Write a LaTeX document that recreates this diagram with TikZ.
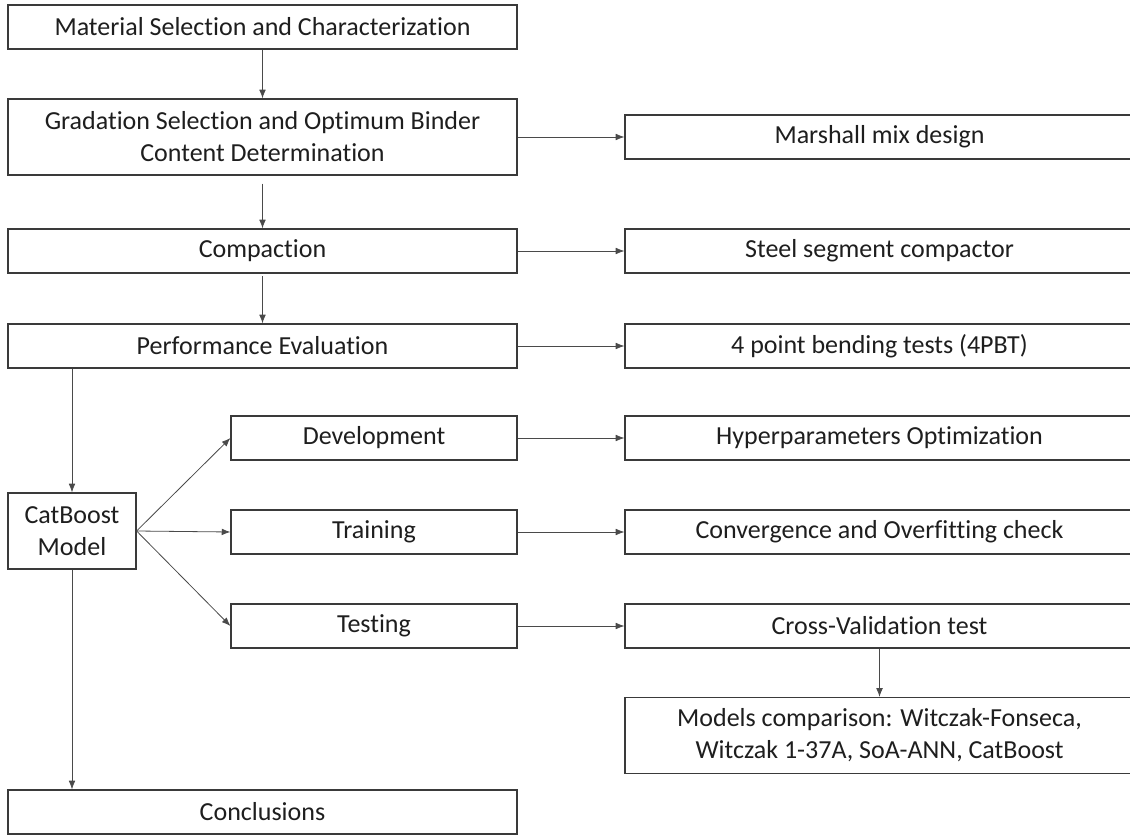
\documentclass[tikz,border=0pt]{standalone}
\usepackage{fontspec}
\setmainfont{Carlito}[Ligatures=CommonOff]
\usepackage{tikz}
\usetikzlibrary{arrows.meta,positioning,calc}
\definecolor{Ink}{HTML}{1E1E1E}
\definecolor{Edge}{HTML}{3A3A3A}
\definecolor{Wire}{HTML}{4A4A4A}
\tikzset{
  >={Latex[length=6.5pt,width=5pt]},
  box/.style={rectangle,draw=Edge,line width=.9pt,fill=white,minimum width=381.75pt,minimum height=33pt,inner sep=2pt,align=center,text=Ink,font=\fontsize{19.5}{24}\selectfont},
  tallbox/.style={box,minimum height=57pt},
  midbox/.style={box,minimum width=214.5pt},
  catbox/.style={box,minimum width=96pt,minimum height=57pt},
  flow/.style={->,line width=.6pt,draw=Wire}
}

\begin{document}
\begin{tikzpicture}[x=.75pt,y=-.75pt]
    \clip (0,0) rectangle (1130,837);
    % main column
    \node[box] (mat) at (262.5,27) {Material Selection and Characterization};
    \node[tallbox] (grad) at (262.5,137) {Gradation Selection and Optimum Binder\\Content Determination};
    \node[box] (comp) at (262.5,251) {Compaction};
    \node[box] (perf) at (262.5,346) {Performance Evaluation};
    \node[catbox] (cat) at (72,531) {CatBoost\\Model};
    \node[midbox] (dev) at (374,438) {Development};
    \node[midbox] (train) at (374,532) {Training};
    \node[midbox] (test) at (374,626) {Testing};
    \node[box] (concl) at (262.5,812) {Conclusions};
    % right column
    \node[box] (marsh) at (879.5,137) {Marshall mix design};
    \node[box] (steel) at (879.5,251) {Steel segment compactor};
    \node[box] (fpbt) at (879.5,346) {4 point bending tests (4PBT)};
    \node[box] (hyper) at (879.5,438) {Hyperparameters Optimization};
    \node[box] (conv) at (879.5,532) {Convergence and Overfitting check};
    \node[box] (cv) at (879.5,626) {Cross-Validation test};
    \node[tallbox] (cmp) at (879.5,735.5) {Models comparison: Witczak-Fonseca,\\Witczak 1-37A, SoA-ANN, CatBoost};
    % connectors
    \draw[flow] (mat) -- (grad);
    \draw[flow,shorten <=6pt] (grad) -- (comp);
    \draw[flow,shorten <=2pt] (comp) -- (perf);
    \draw[flow] (perf.south -| cat.north) -- (cat.north);
    \draw[flow] (cat.south) -- (cat.south |- concl.north);
    \draw[flow] (cat.east) -- (dev.west);
    \draw[flow] (cat.east) -- (train.west);
    \draw[flow] (cat.east) -- (test.west);
    \draw[flow] (grad) -- (marsh);
    \draw[flow] (comp) -- (steel);
    \draw[flow] (perf) -- (fpbt);
    \draw[flow] (dev) -- (hyper);
    \draw[flow] (train) -- (conv);
    \draw[flow] (test) -- (cv);
    \draw[flow] (cv) -- (cmp);
\end{tikzpicture}
\end{document}
